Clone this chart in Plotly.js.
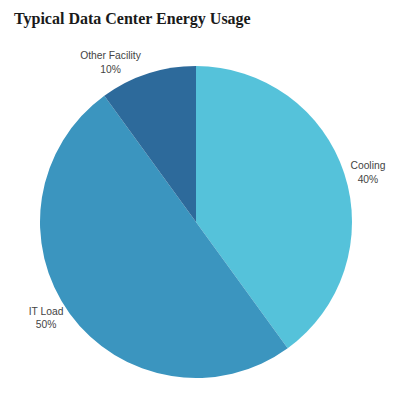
<!DOCTYPE html>
<html>
<head>
<meta charset="utf-8">
<script src="https://cdn.plot.ly/plotly-3.0.1.min.js"></script>
<style>html,body{margin:0;padding:0;background:#fff;}#chart{width:400px;height:400px;}</style>
</head>
<body>
<div id="chart"></div>
<script>
const categories = ["Cooling", "IT Load", "Other Facility"];
const shares = [40, 50, 10];
const sliceColors = ["#55c2da", "#3b95bf", "#2d6a9b"];

const data = [{
  type: "pie",
  labels: categories,
  values: shares,
  sort: false,
  direction: "clockwise",
  rotation: 0,
  marker: { colors: sliceColors, line: { width: 0 } },
  textinfo: "label+percent",
  textposition: "outside",
  texttemplate: "%{label}<br>%{percent:.0%}",
  outsidetextfont: { family: "Liberation Sans, Arial, sans-serif", size: 10.3, color: "#444" },
  hoverinfo: "none",
  showlegend: false
}];

const layout = {
  width: 400,
  height: 400,
  margin: { l: 40, r: 48, t: 66, b: 22 },
  paper_bgcolor: "#fff",
  title: {
    text: "<b>Typical Data Center Energy Usage</b>",
    font: { family: "Liberation Serif, DejaVu Serif, serif", size: 16, color: "#1a1a1a" },
    x: 0.035,
    xanchor: "left",
    xref: "container",
    y: 0.955,
    yanchor: "middle",
    yref: "container"
  },
  showlegend: false
};
Plotly.newPlot("chart", data, layout, { displayModeBar: false, staticPlot: true });
</script>
</body>
</html>
